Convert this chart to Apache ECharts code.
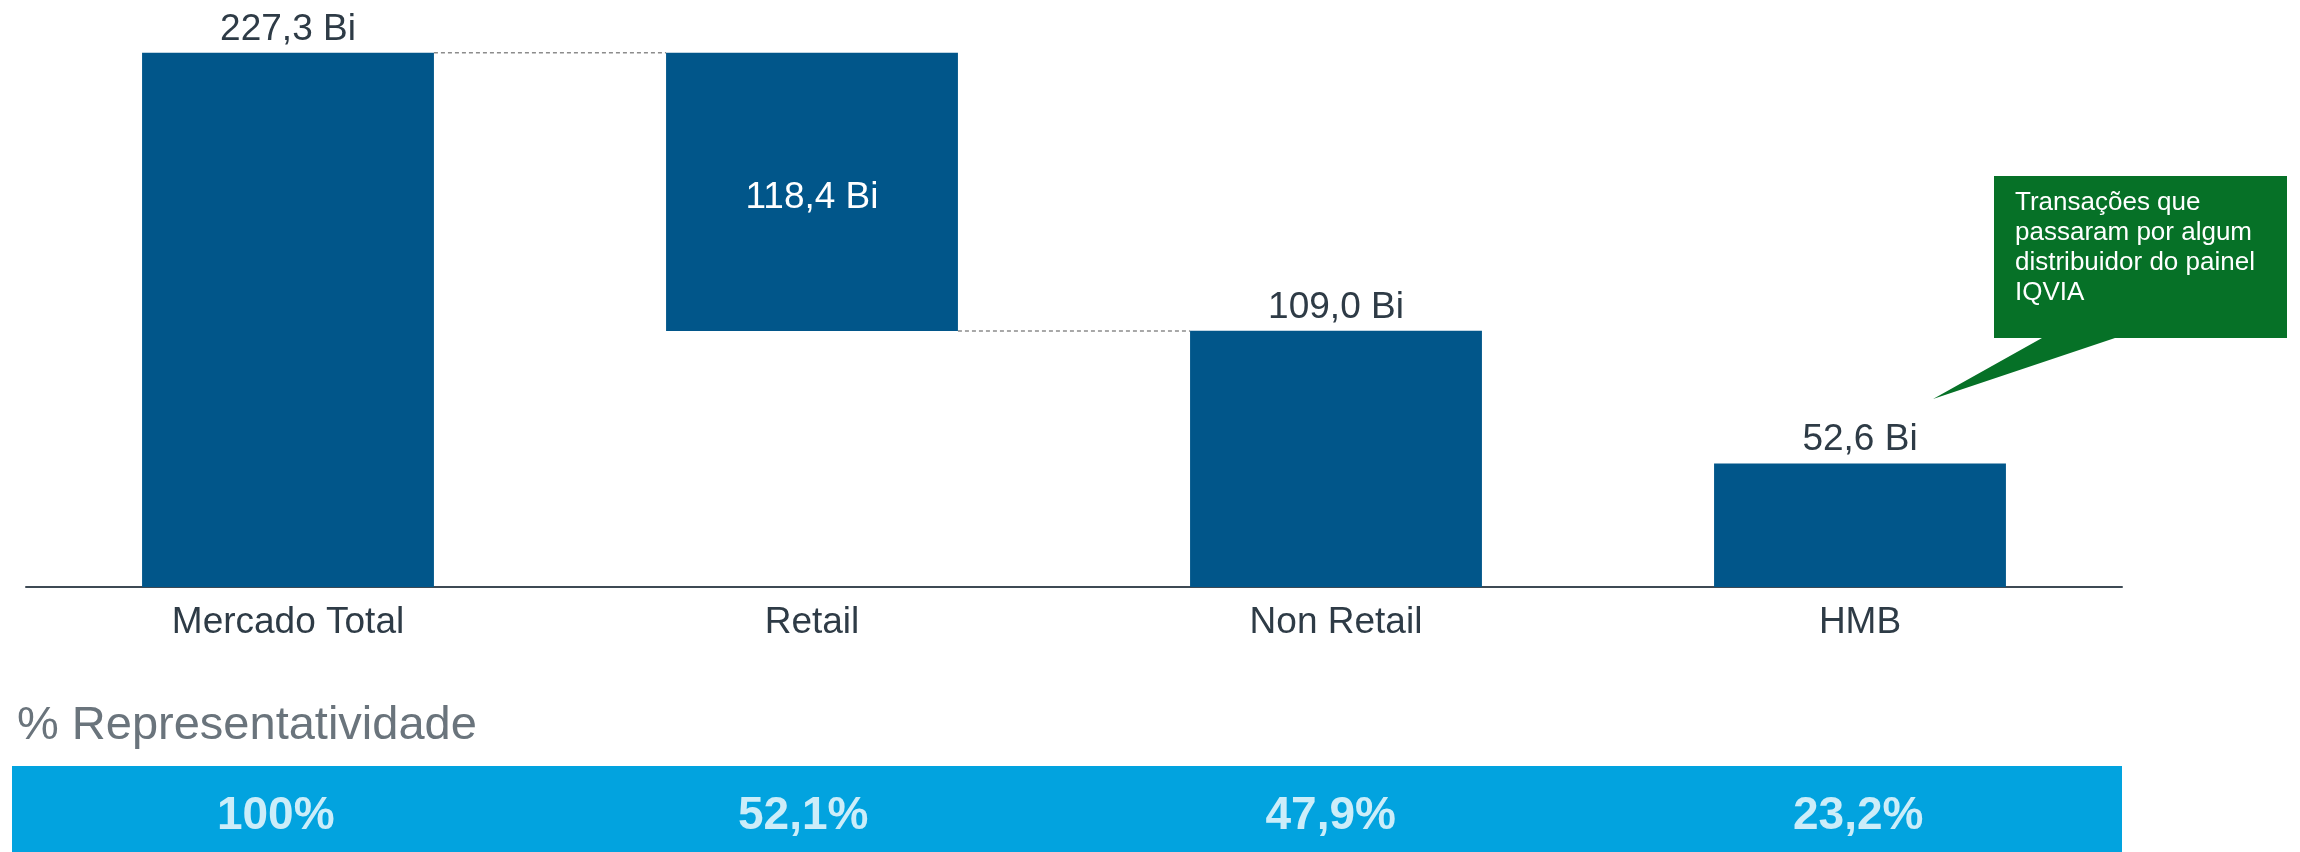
<!DOCTYPE html>
<html>
<head>
<meta charset="utf-8">
<script src="https://cdn.jsdelivr.net/npm/echarts@6/dist/echarts.min.js"></script>
<style>
html,body{margin:0;padding:0;background:#fff;}
#main{width:2300px;height:852px;}
</style>
</head>
<body>
<div id="main"></div>
<script>
const categories = ['Mercado Total', 'Retail', 'Non Retail', 'HMB'];
const values = [227.3, 118.4, 109.0, 52.6];
const valueLabels = ['227,3 Bi', '118,4 Bi', '109,0 Bi', '52,6 Bi'];
const shares = ['100%', '52,1%', '47,9%', '23,2%'];
const calloutLines = ['Transações que', 'passaram por algum', 'distribuidor do painel', 'IQVIA'];

// waterfall: Retail floats on top of the remainder
const bases = [0, +(values[0] - values[1]).toFixed(1), 0, 0];
const connectors = [[0, values[0]], [1, bases[1]]];

const BAR_COLOR = '#01568A';
const TEXT_COLOR = '#2E3B46';
const FONT = "'Liberation Sans', Arial, sans-serif";
const BAR_FRAC = 0.557;

const chart = echarts.init(document.getElementById('main'), null, {renderer: 'canvas'});

const option = {
  animation: false,
  backgroundColor: '#ffffff',
  textStyle: {fontFamily: FONT},
  grid: [
    {left: 26, right: 178, top: 23, bottom: 265},
    {left: 12, right: 178, top: 766, bottom: 0, show: true, backgroundColor: '#02A3DF', borderWidth: 0}
  ],
  xAxis: [
    {
      type: 'category', gridIndex: 0, data: categories,
      axisLine: {show: true, lineStyle: {color: '#3E4A54', width: 2}},
      axisTick: {show: false},
      axisLabel: {color: TEXT_COLOR, fontSize: 37, margin: 17, fontFamily: FONT}
    },
    {
      type: 'category', gridIndex: 1, data: categories,
      axisLine: {show: false}, axisTick: {show: false}, axisLabel: {show: false}
    }
  ],
  yAxis: [
    {type: 'value', gridIndex: 0, min: 0, max: 240, show: false},
    {type: 'value', gridIndex: 1, min: 0, max: 1, show: false}
  ],
  series: [
    {
      type: 'bar', stack: 'wf', xAxisIndex: 0, yAxisIndex: 0,
      barWidth: (BAR_FRAC * 100) + '%',
      itemStyle: {color: 'transparent'},
      data: bases, silent: true
    },
    {
      type: 'bar', stack: 'wf', xAxisIndex: 0, yAxisIndex: 0,
      barWidth: (BAR_FRAC * 100) + '%',
      itemStyle: {color: BAR_COLOR},
      data: values.map((v, i) => ({
        value: v,
        label: i === 1
          ? {show: true, position: 'inside', offset: [0, 6], color: '#ffffff', textBorderWidth: 0, fontSize: 37, fontFamily: FONT, formatter: valueLabels[i]}
          : {show: true, position: 'top', distance: 5, color: TEXT_COLOR, fontSize: 37, fontFamily: FONT, formatter: valueLabels[i]}
      }))
    },
    {
      type: 'custom', xAxisIndex: 0, yAxisIndex: 0, z: 5,
      data: connectors,
      renderItem: function (params, api) {
        const i = api.value(0);
        const y = api.value(1);
        const p1 = api.coord([i, y]);
        const p2 = api.coord([i + 1, y]);
        const half = api.size([1, 0])[0] * BAR_FRAC / 2;
        return {
          type: 'line',
          shape: {x1: p1[0] + half, y1: p1[1], x2: p2[0] - half, y2: p2[1]},
          style: {stroke: '#8C8C8C', lineWidth: 1.5, lineDash: [4, 3]}
        };
      }
    },
    {
      type: 'scatter', xAxisIndex: 1, yAxisIndex: 1,
      symbolSize: 0,
      data: shares.map((s, i) => [i, 0.42]),
      label: {
        show: true, position: 'inside', color: '#ffffff', textBorderWidth: 0, fontSize: 46, fontWeight: 'bold', fontFamily: FONT,
        formatter: p => shares[p.dataIndex]
      }
    }
  ],
  graphic: [
    {
      type: 'text', left: 17, top: 703,
      style: {text: '% Representatividade', fill: '#6A747C', fontSize: 47, fontFamily: FONT}
    },
    {
      type: 'polygon',
      shape: {points: [[1994, 176], [2287, 176], [2287, 338], [2115, 338], [1933, 399], [2042, 338], [1994, 338]]},
      style: {fill: '#067127'}
    },
    {
      type: 'text', left: 2015, top: 188,
      style: {text: calloutLines.join('\n'), fill: '#ffffff', fontSize: 26, lineHeight: 30, fontFamily: FONT}
    }
  ]
};

chart.setOption(option);
</script>
</body>
</html>
